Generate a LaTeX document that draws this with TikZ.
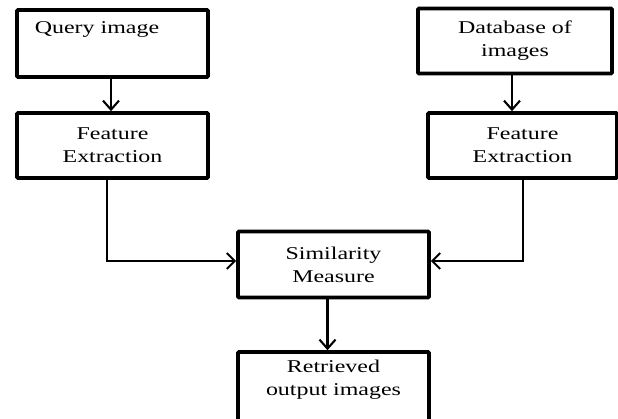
\documentclass[tikz,border=0pt]{standalone}
\usepackage{fontspec}
\setmainfont[FakeStretch=1.33]{Liberation Serif}
\usetikzlibrary{arrows.meta}
\begin{document}
\begin{tikzpicture}[x=1pt,y=-1pt,
  box/.style={draw,line width=3.6pt,rounded corners=1pt,inner sep=0pt,align=center,font=\fontsize{18}{23}\selectfont},
  txt/.style={inner sep=0pt,font=\fontsize{18}{23}\selectfont},
  arr/.style={line width=2.1pt,-{Straight Barb[length=9pt,width=16pt,line width=2.1pt]}},
  conn/.style={line width=1.7pt,-{Straight Barb[length=8pt,width=16pt,line width=2pt]}}]
\useasboundingbox (0,0) rectangle (618,418);
\node[box,minimum width=191pt,minimum height=67pt] (q) at (112.5,43.5) {};
\node[txt] (qt) at (97,29) {Query image};
\node[box,minimum width=194pt,minimum height=65pt] (db) at (515,41) {Database of\\images};
\node[box,minimum width=191pt,minimum height=65pt] (fl) at (112.5,145.5) {Feature\\Extraction};
\node[box,minimum width=189pt,minimum height=65pt] (fr) at (522.5,145.5) {Feature\\Extraction};
\node[box,minimum width=191pt,minimum height=66pt] (sim) at (333.5,264.5) {Similarity\\Measure};
\node[box,minimum width=191pt,minimum height=72pt,text depth=0pt] (ret) at (333.5,388) {};
\node[txt,align=center] (rt) at (333.5,380) {Retrieved\\output images};
\draw[arr] ([xshift=-1.5pt]q.south) -- ([xshift=-1.5pt]q.south |- fl.north);
\draw[arr] ([xshift=-3pt]db.south) -- ([xshift=-3pt]db.south |- fr.north);
\draw[conn] ([xshift=-5.5pt]fl.south) |- ([yshift=3.5pt]sim.west);
\draw[conn] ([xshift=0.5pt]fr.south) |- ([yshift=3.5pt]sim.east);
\draw[arr] ([xshift=-6pt]sim.south) -- ([xshift=-6pt]sim.south |- ret.north);
\end{tikzpicture}
\end{document}
